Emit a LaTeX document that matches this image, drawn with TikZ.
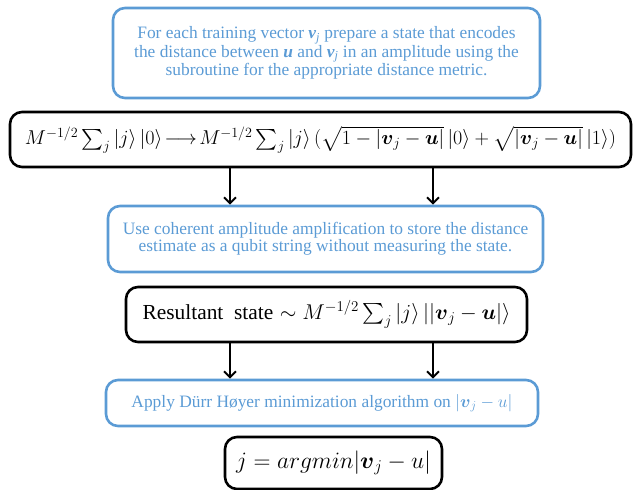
\RequirePackage{fix-cm}
\documentclass[tikz,border=0pt]{standalone}
\usepackage{amsmath}
\usepackage{fontspec}
\newfontfamily\tnr{Liberation Serif}
\usetikzlibrary{arrows.meta}
\definecolor{boxblue}{RGB}{91,155,213}
\tikzset{
  bluebox/.style={draw=boxblue, line width=2.6pt, rounded corners=12pt, text=boxblue, align=center, inner sep=0pt, font=\tnr},
  blackbox/.style={draw=black, line width=2.6pt, rounded corners=12pt, text=black, align=center, inner sep=0pt},
  arr/.style={line width=2pt, -{Straight Barb[length=6pt,width=12pt,line width=2pt]}}
}
\newcommand{\bv}{{\bfseries\itshape v}\textsubscript{\itshape j}}
\newcommand{\bu}{{\bfseries\itshape u}}
\begin{document}
\begin{tikzpicture}[x=1pt,y=-1pt]
\useasboundingbox (0,0) rectangle (633,490);
\node[bluebox, minimum width=427pt, minimum height=90pt] (b1) at (326.5,53)
  {\fontsize{17.4}{23}\selectfont For each training vector \bv{} prepare a state that encodes\\
   \fontsize{17.4}{23}\selectfont the distance between \bu{} and \bv{} in an amplitude using the\\
   \fontsize{17.4}{23}\selectfont subroutine for the appropriate distance metric.};
\node[blackbox, minimum width=621pt, minimum height=55pt] (b2) at (320.5,139.5)
  {\fontsize{20.1}{24}\selectfont $M^{-1/2}\sum_j|j\rangle\,|0\rangle\!\longrightarrow\! M^{-1/2}\sum_j|j\rangle\,(\sqrt{1-|\boldsymbol{v}_j-\boldsymbol{u}|}\,|0\rangle+\sqrt{|\boldsymbol{v}_j-\boldsymbol{u}|}\,|1\rangle)$};
\node[bluebox, minimum width=435pt, minimum height=66pt] (b3) at (325.5,239)
  {\fontsize{17.4}{23}\selectfont Use coherent amplitude amplification to store the distance\\
   \fontsize{17.4}{23}\selectfont estimate as a qubit string without measuring the state.};
\node[blackbox, minimum width=401pt, minimum height=55pt] (b4) at (326.5,314.5)
  {\fontsize{21.4}{25}\selectfont {\tnr Resultant\ \ state} $\sim M^{-1/2}\sum_j|j\rangle\,||\boldsymbol{v}_j-\boldsymbol{u}|\rangle$};
\node[bluebox, minimum width=432pt, minimum height=46pt] (b5) at (322,403)
  {\fontsize{17.4}{21}\selectfont Apply Dürr Høyer minimization algorithm on $|\boldsymbol{v}_j-u|$};
\node[blackbox, minimum width=217pt, minimum height=52pt] (b6) at (333.5,463)
  {\fontsize{23.5}{28}\selectfont $j=argmin|\boldsymbol{v}_j-u|$};
\coordinate (xa) at (230,0);
\coordinate (xb) at (433,0);
\draw[arr] (xa |- b2.south) -- (xa |- b3.north);
\draw[arr] (xb |- b2.south) -- (xb |- b3.north);
\draw[arr] (xa |- b4.south) -- (xa |- b5.north);
\draw[arr] (xb |- b4.south) -- (xb |- b5.north);
\end{tikzpicture}
\end{document}
